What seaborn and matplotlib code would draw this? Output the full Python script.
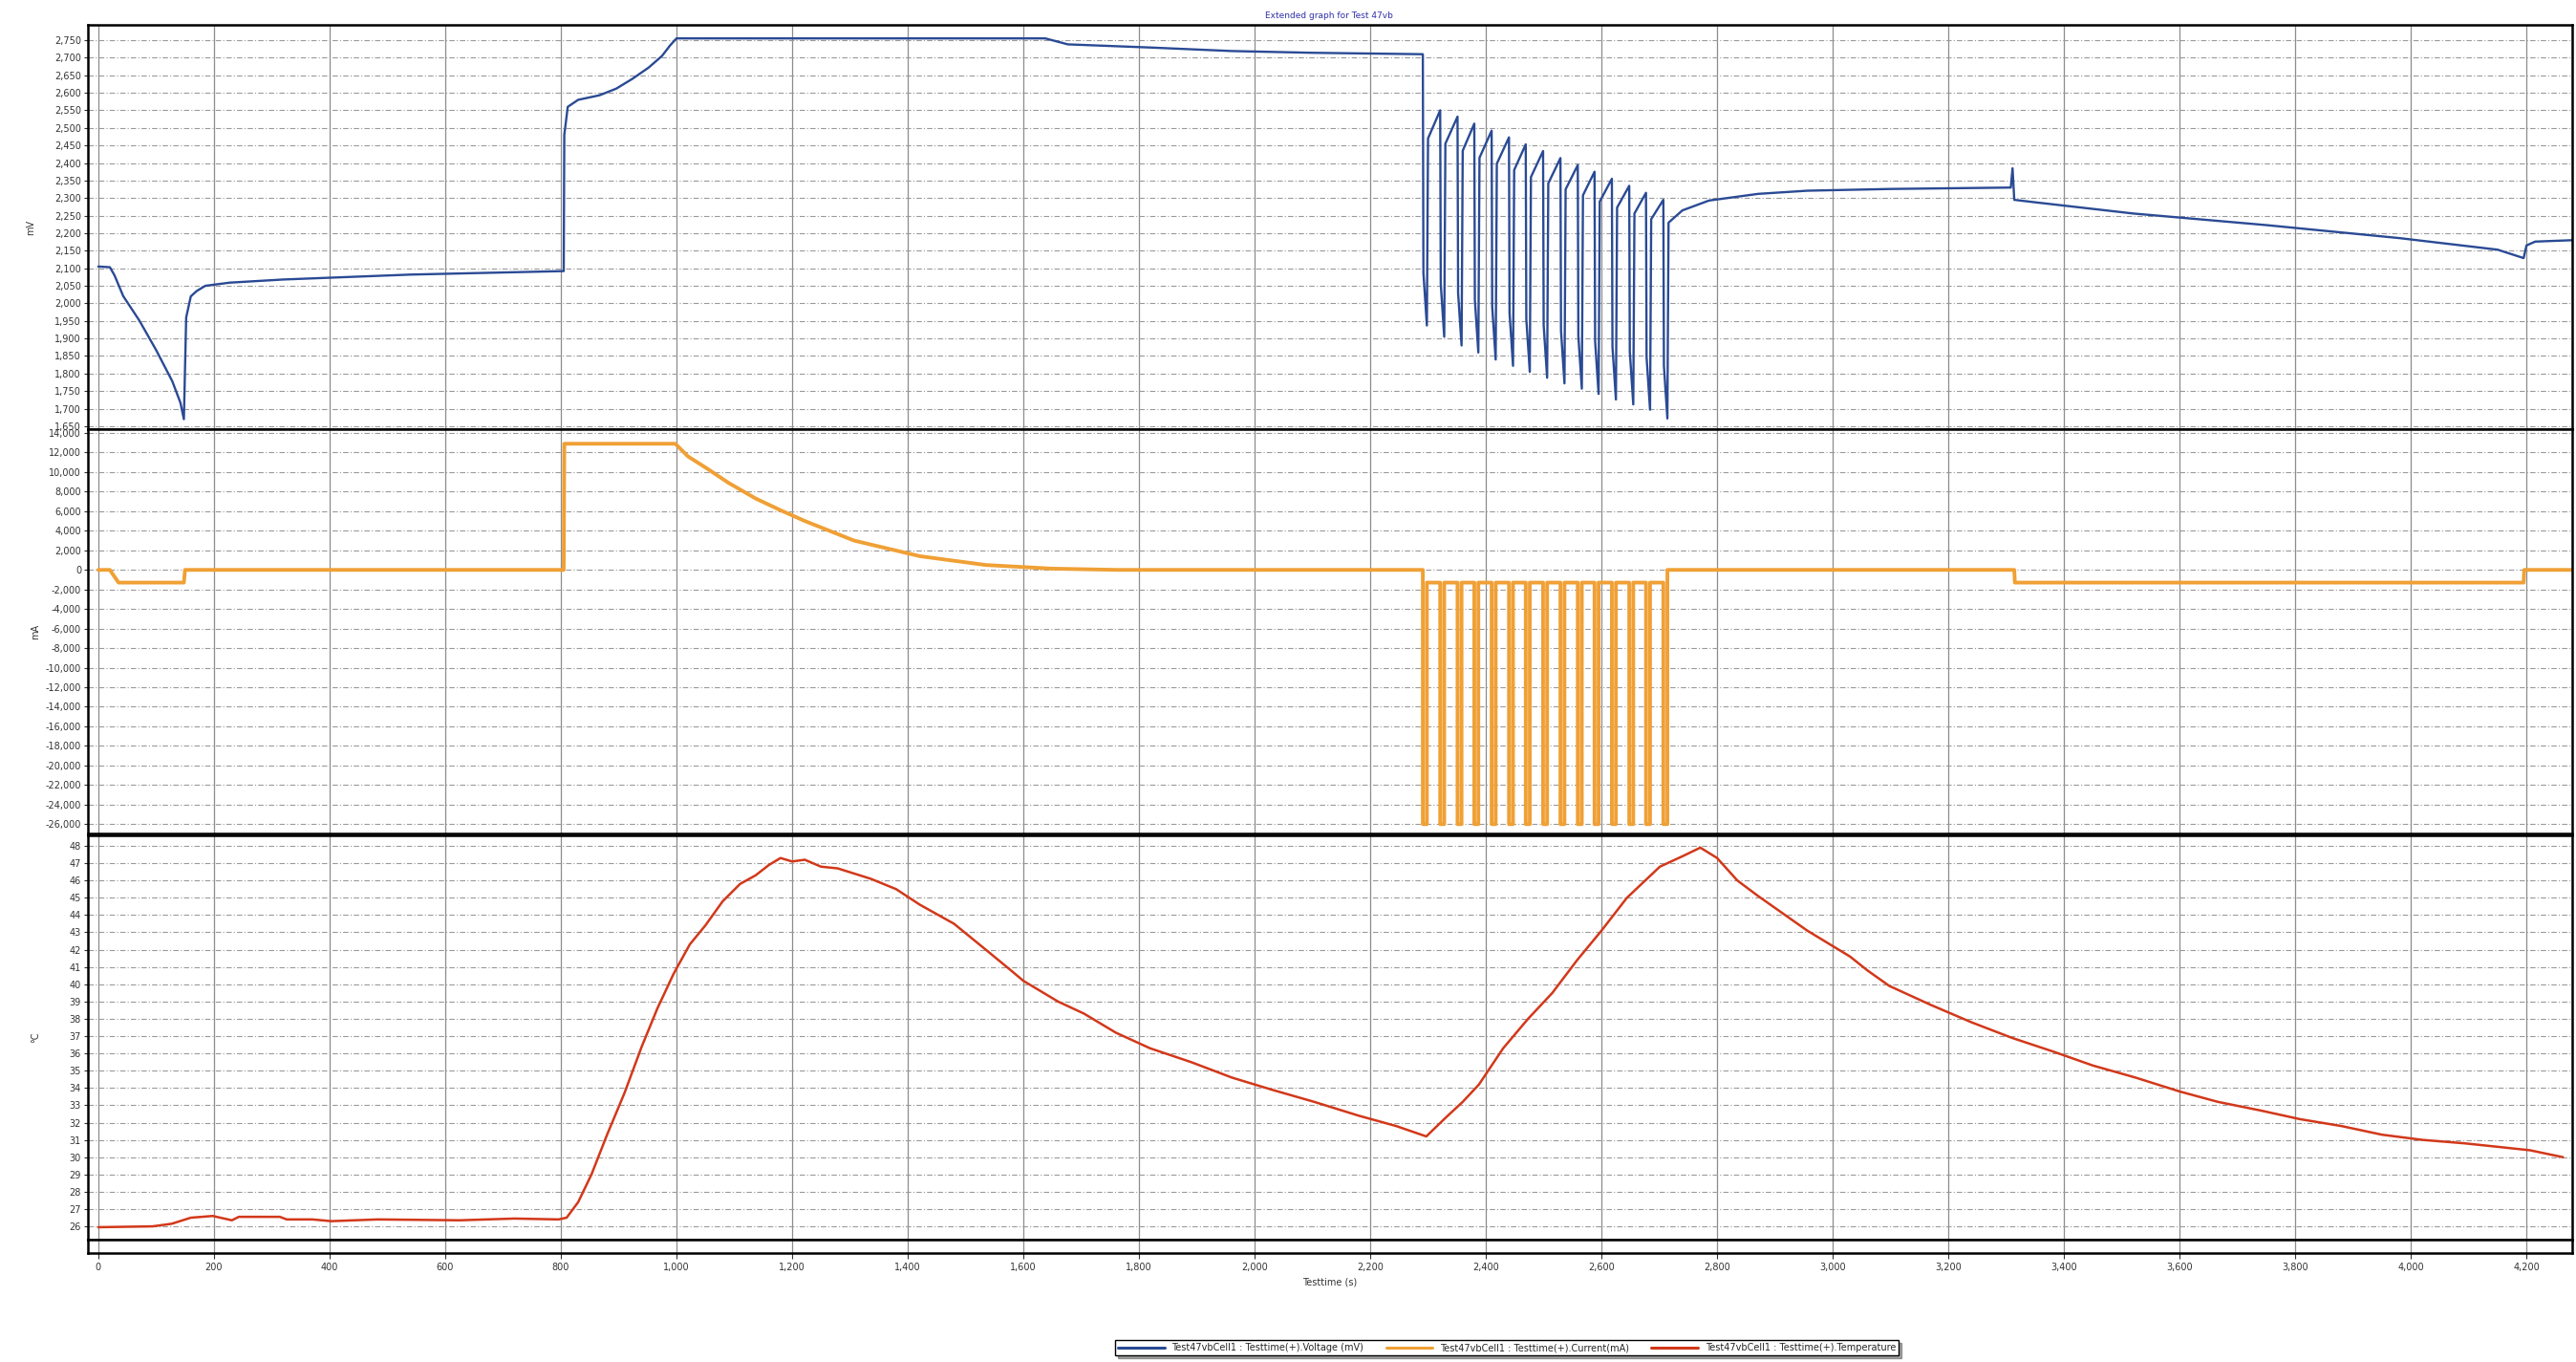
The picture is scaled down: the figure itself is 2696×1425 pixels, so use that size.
import numpy as np
import pandas as pd
import seaborn as sns
import matplotlib
matplotlib.use('Agg')
import matplotlib.pyplot as plt
from matplotlib.ticker import FuncFormatter, MultipleLocator

# ---- data ----
# voltage (mV) before the pulse train
volt_t1 = [0, 20, 28, 43, 71, 100, 128, 142, 148, 152, 160, 170, 185, 227, 320, 540, 805,
           806, 812, 830, 867, 896, 924, 952, 975, 989, 1000, 1638, 1677, 1820, 1960, 2100, 2288, 2291]
volt_v1 = [2105, 2103, 2080, 2021, 1951, 1867, 1778, 1717, 1670, 1960, 2020, 2035, 2050, 2059, 2068, 2082, 2092,
           2480, 2560, 2580, 2593, 2612, 2640, 2672, 2705, 2735, 2755, 2755, 2738, 2729, 2719, 2714, 2710, 2710]
# pulse train: start of each pulse, voltage at start / at end of pulse / just after
pulse_start = [2291, 2321, 2351, 2380, 2410, 2440, 2469, 2499, 2529, 2559, 2588, 2618, 2648, 2677, 2707]
pulse_len = 7
pulse_top = [2710, 2550, 2532, 2512, 2492, 2473, 2453, 2434, 2414, 2394, 2375, 2355, 2335, 2315, 2295]
pulse_bot = [1937, 1905, 1880, 1860, 1840, 1822, 1805, 1788, 1772, 1757, 1742, 1726, 1712, 1697, 1672]
pulse_rec = [2470, 2455, 2435, 2415, 2398, 2380, 2360, 2342, 2325, 2308, 2290, 2273, 2256, 2240, 2230]
# voltage after the pulse train
volt_t2 = [2740, 2786, 2871, 2956, 3100, 3308, 3311, 3314, 3350, 3520, 3750, 3980, 4150, 4195, 4200, 4215, 4279]
volt_v2 = [2265, 2293, 2312, 2321, 2326, 2330, 2385, 2295, 2288, 2256, 2223, 2186, 2153, 2129, 2165, 2176, 2180]

# current (mA)
curr_t1 = [0, 20, 35, 148, 150, 805, 806, 998, 1020, 1052, 1090, 1137, 1180, 1222, 1307, 1421, 1535, 1649, 1763]
curr_v1 = [0, 0, -1300, -1300, 0, 0, 12900, 12900, 11600, 10400, 8900, 7300, 6100, 5000, 3000, 1400, 500, 130, 0]
pulse_amp = -26000
rest_amp = -1300
curr_t2 = [2714, 3314, 3315, 4195, 4196, 4279]
curr_v2 = [0, 0, -1300, -1300, 0, 0]

# temperature (deg C)
temp_t = [0, 94, 127, 160, 198, 231, 243, 314, 326, 370, 403, 483, 625, 720, 796, 810, 830, 853, 880, 910,
          940, 967, 995, 1023, 1050, 1080, 1110, 1137, 1160, 1180, 1200, 1222, 1250, 1279, 1336, 1380,
          1421, 1480, 1535, 1575, 1600, 1620, 1660, 1705, 1760, 1819, 1890, 1961, 2030, 2103, 2180, 2245,
          2297, 2331, 2360, 2388, 2430, 2473, 2515, 2558, 2600, 2644, 2701, 2740, 2771, 2800, 2835, 2871,
          2956, 3030, 3060, 3098, 3170, 3240, 3310, 3382, 3450, 3524, 3600, 3666, 3740, 3808, 3880, 3950,
          4020, 4093, 4150, 4206, 4263]
temp_v = [25.95, 26.0, 26.15, 26.5, 26.6, 26.35, 26.55, 26.55, 26.4, 26.4, 26.3, 26.4, 26.35, 26.45, 26.4, 26.5,
          27.4, 29.0, 31.3, 33.7, 36.4, 38.6, 40.6, 42.3, 43.4, 44.8, 45.8, 46.3, 46.9, 47.3, 47.1, 47.2,
          46.8, 46.7, 46.1, 45.5, 44.6, 43.5, 42.0, 40.9, 40.2, 39.8, 39.0, 38.3, 37.2, 36.3, 35.5, 34.6,
          33.9, 33.2, 32.4, 31.8, 31.2, 32.3, 33.2, 34.2, 36.3, 38.0, 39.5, 41.4, 43.1, 45.0, 46.8, 47.4,
          47.9, 47.3, 46.0, 45.1, 43.1, 41.6, 40.8, 39.9, 38.8, 37.8, 36.9, 36.1, 35.3, 34.6, 33.8, 33.2,
          32.7, 32.2, 31.8, 31.3, 31.0, 30.8, 30.6, 30.4, 30.0]

x_ticks = list(range(0, 4201, 200))

title = 'Extended graph for Test 47vb'
legend_labels = ['Test47vbCell1 : Testtime(+).Voltage (mV)',
                 'Test47vbCell1 : Testtime(+).Current(mA)',
                 'Test47vbCell1 : Testtime(+).Temperature']

# ---- assemble series ----
vt, vv = list(volt_t1), list(volt_v1)
ct, cv = list(curr_t1), list(curr_v1)
ct.append(pulse_start[0])
cv.append(0)
for s, top, bot, rec in zip(pulse_start, pulse_top, pulse_bot, pulse_rec):
    vt += [s, s + 1, s + pulse_len, s + pulse_len + 2]
    vv += [top, bot + 150, bot, rec]
    ct += [s, s, s + pulse_len, s + pulse_len]
    cv += [rest_amp, pulse_amp, pulse_amp, rest_amp]
vt += volt_t2
vv += volt_v2
ct += curr_t2
cv += curr_v2

volt = pd.DataFrame({'t': vt, 'v': vv})
curr = pd.DataFrame({'t': ct, 'v': cv})
temp = pd.DataFrame({'t': temp_t, 'v': temp_v})

# ---- plot ----
sns.set_style('white')
plt.rcParams['font.family'] = ['DejaVu Sans']
plt.rcParams['font.size'] = 7

W, H = 2696, 1425
fig = plt.figure(figsize=(W / 100, H / 100), dpi=100)

left = 92 / W
width = (2692 - 92) / W
def frac(y_top, y_bot):
    return [left, 1 - y_bot / H, width, (y_bot - y_top) / H]

ax1 = fig.add_axes(frac(26, 449))
ax2 = fig.add_axes(frac(449, 872), sharex=ax1)
ax3 = fig.add_axes(frac(874, 1297), sharex=ax1)
ax4 = fig.add_axes(frac(1297, 1311), sharex=ax1)

blue = '#2a4a94'
orange = '#f0a035'
red = '#d2381a'

sns.lineplot(data=volt, x='t', y='v', ax=ax1, color=blue, lw=1.7, estimator=None, sort=False)
sns.lineplot(data=curr, x='t', y='v', ax=ax2, color=orange, lw=2.8, estimator=None, sort=False)
sns.lineplot(data=temp, x='t', y='v', ax=ax3, color=red, lw=1.8, estimator=None, sort=False)

ax1.set_ylim(1641.6, 2793.6)
ax2.set_ylim(-26950, 14390)
ax3.set_ylim(25.23, 48.61)
ax1.set_xlim(-18, 4279)

ax1.yaxis.set_major_locator(MultipleLocator(50))
ax2.yaxis.set_major_locator(MultipleLocator(2000))
ax3.yaxis.set_major_locator(MultipleLocator(1))
ax1.set_xticks(x_ticks)

fmt = FuncFormatter(lambda v, p: f'{v:,.0f}')
for ax in (ax1, ax2, ax3, ax4):
    ax.yaxis.set_major_formatter(fmt)
    ax.xaxis.set_major_formatter(fmt)
    ax.grid(axis='x', color='#8c8c8c', lw=0.9, ls='-')
    ax.grid(axis='y', color='#9a9a9a', lw=0.8, ls=(0, (5, 2, 1, 2)))
    for sp in ax.spines.values():
        sp.set_color('black')
        sp.set_linewidth(1.8)
    ax.tick_params(axis='y', left=True, length=3, width=0.8, labelsize=7, pad=2, colors='#333333')
    ax.tick_params(axis='x', bottom=False, labelbottom=False)
    ax.set_xlabel('')

ax4.set_yticks([])
ax4.grid(axis='y', visible=False)
ax4.tick_params(axis='x', bottom=True, labelbottom=True, length=4, width=0.8, labelsize=7, colors='#333333')
ax4.set_xlabel('Testtime (s)', fontsize=7, labelpad=4, color='#333333')

ax1.set_ylabel('mV', fontsize=7, labelpad=14, color='#333333')
ax2.set_ylabel('mA', fontsize=7, labelpad=4, color='#333333')
ax3.set_ylabel('°C', fontsize=7, labelpad=22, color='#333333')

fig.text(0.516, 0.9885, title, ha='center', va='center', fontsize=6.5, color='#3030a8')

handles = [plt.Line2D([], [], color=c, lw=2.2) for c in (blue, orange, red)]
leg = fig.legend(handles, legend_labels, loc='center', bbox_to_anchor=(0.585, 0.0105), ncol=3,
                 fontsize=7, frameon=True, fancybox=False, shadow=True, edgecolor='black',
                 handlelength=5, columnspacing=2.4, borderpad=0.3)
leg.get_frame().set_linewidth(1.0)

fig.savefig('out.png', dpi=100)
